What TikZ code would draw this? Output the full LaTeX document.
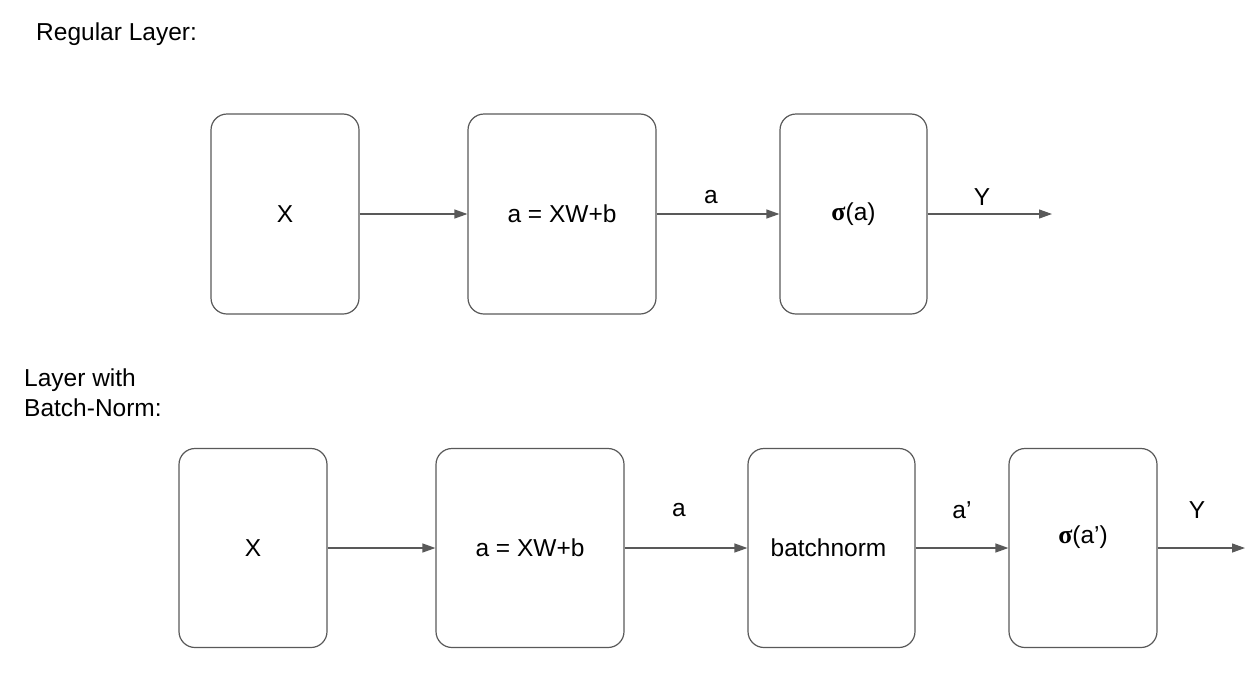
\documentclass[tikz,border=0pt]{standalone}
\usepackage{fontspec}
\setmainfont{Liberation Sans}
\newfontfamily\sigmafont{Liberation Serif}
\usetikzlibrary{arrows.meta}
\definecolor{linegray}{HTML}{595959}
\tikzset{
  blk/.style={draw=linegray, line width=1.2pt, rounded corners=16pt, inner sep=0pt},
  conn/.style={draw=linegray, line width=1.2pt, -{Triangle[length=13pt,width=9pt]}},
  lbl/.style={font=\fontsize{24.5}{30}\selectfont, inner sep=0pt},
  ttl/.style={font=\fontsize{24.5}{30}\selectfont, inner sep=0pt, anchor=west, align=left},
}
\newcommand{\sig}{{\sigmafont\bfseries\fontsize{26}{30}\selectfont σ}}
\begin{document}
\begin{tikzpicture}[x=1pt,y=-1pt]
\useasboundingbox (0,0) rectangle (1260,672);
% titles
\node[ttl] (t1) at (36,34) {Regular Layer:};
\node[ttl] (t2) at (24,393) {Layer with\\Batch-Norm:};
% top row
\node[blk, minimum width=148pt, minimum height=200pt] (x1) at (285,214) {};
\node[lbl] at (x1.center) {X};
\node[blk, minimum width=188pt, minimum height=200pt] (l1) at (562,214) {};
\node[lbl] at (l1.center) {a = XW+b};
\node[blk, minimum width=147pt, minimum height=200pt] (s1) at (853.5,214) {};
\node[lbl] at (s1.center) {\sig(a)};
\coordinate (e1) at (1052,214);
\draw[conn] (x1.east) -- (l1.west);
\draw[conn] (l1.east) -- (s1.west);
\draw[conn] (s1.east) -- (e1);
\node[lbl] (la1) at (711,197) {a};
\node[lbl] (ly1) at (982,197) {Y};
% bottom row
\node[blk, minimum width=148pt, minimum height=199pt] (x2) at (253,548) {};
\node[lbl] at (x2.center) {X};
\node[blk, minimum width=188pt, minimum height=199pt] (l2) at (530,548) {};
\node[lbl] at (l2.center) {a = XW+b};
\node[blk, minimum width=167pt, minimum height=199pt] (b2) at (831.5,548) {};
\node[lbl] at ([xshift=-3pt]b2.center) {batchnorm};
\node[blk, minimum width=148pt, minimum height=199pt] (s2) at (1083,548) {};
\node[lbl] at ([yshift=11pt]s2.center) {\sig(a’)};
\coordinate (e2) at (1245,548);
\draw[conn] (x2.east) -- (l2.west);
\draw[conn] (l2.east) -- (b2.west);
\draw[conn] (b2.east) -- (s2.west);
\draw[conn] (s2.east) -- (e2);
\node[lbl] (la2) at (679,510) {a};
\node[lbl] (lp2) at (962,510) {a’};
\node[lbl] (ly2) at (1197,510) {Y};
\end{tikzpicture}
\end{document}
